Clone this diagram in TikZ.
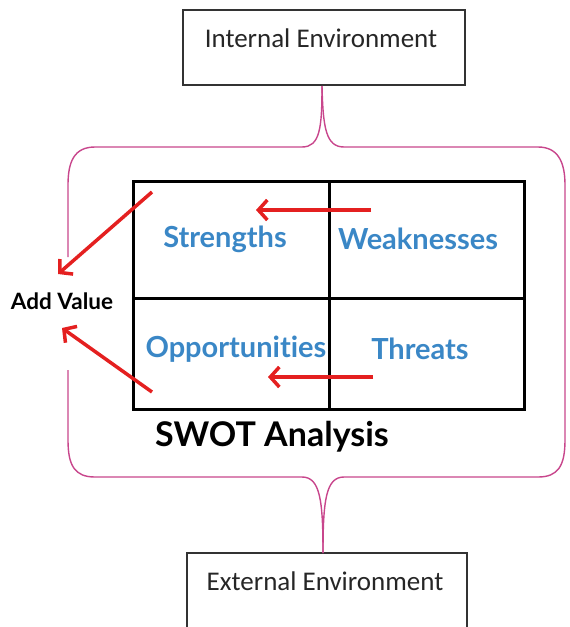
\documentclass[tikz,border=0pt]{standalone}
\usepackage{fontspec}
\setmainfont{Carlito}
\newfontfamily\gill[Ligatures={NoCommon,NoRare}]{Lato}
\usetikzlibrary{arrows.meta}
\definecolor{brak}{RGB}{200,70,140}
\definecolor{swblue}{RGB}{58,135,198}
\definecolor{arred}{RGB}{228,32,32}
\tikzset{
  envbox/.style={draw=black!80,line width=1.4pt},
  envtext/.style={font=\fontsize{27}{29}\selectfont,text=black!85},
  cell/.style={font=\gill\bfseries\fontsize{29}{31}\selectfont,text=swblue,inner sep=0pt},
  gridline/.style={line width=3pt,black},
  bracket/.style={draw=brak,line width=1.4pt},
  redarrow/.style={draw=arred,line width=3.5pt,-{Straight Barb[length=9pt,width=20pt,line width=3.5pt]}},
}
\begin{document}
\begin{tikzpicture}[x=1pt,y=-1pt]
\useasboundingbox (0,0) rectangle (570,627);
% environment boxes
\draw[envbox] (183,10) rectangle (465,85);
\node[envtext] (internal) at (321,38) {Internal Environment};
\draw[envbox] (187,553) rectangle (467,640);
\node[envtext] (external) at (325,581) {External Environment};
% bracket
\coordinate (topapex) at (322,86);
\coordinate (botapex) at (323,553);
\draw[bracket] (topapex) .. controls (322,128) and (320,147) .. (302,147) -- (95,147)
  .. controls (74,147) and (68,162) .. (68,185) -- (68,257);
\draw[bracket] (68,370) -- (68,440) .. controls (68,466) and (75,477) .. (95,477) -- (302,477)
  .. controls (320,477) and (323,500) .. (botapex);
\draw[bracket] (topapex) .. controls (323,128) and (326,147) .. (344,147) -- (538,147)
  .. controls (558,147) and (565,162) .. (565,185) -- (565,440)
  .. controls (565,466) and (558,477) .. (538,477) -- (344,477)
  .. controls (326,477) and (323,500) .. (botapex);
% grid
\draw[gridline] (133,181) rectangle (524,409);
\draw[gridline] (329,181) -- (329,409);
\draw[gridline] (133,298) -- (524,298);
\node[cell] (s) at (225,239) {Strengths};
\node[cell] (w) at (418,239) {Weaknesses};
\node[cell] (o) at (236,349) {Opportunities};
\node[cell] (t) at (420,349) {Threats};
\node[font=\gill\bfseries\fontsize{34}{36}\selectfont,inner sep=0pt] (swot) at (272,437) {SWOT Analysis};
\node[font=\gill\bfseries\fontsize{22.5}{24}\selectfont,inner sep=0pt] (addvalue) at (62,301) {Add Value};
% arrows
\coordinate (wa) at (371,210);
\coordinate (sa) at (256,210);
\coordinate (ta) at (373,377);
\coordinate (oa) at (268,377);
\coordinate (sb) at (152,192);
\coordinate (ob) at (152,392);
\coordinate (av1) at (58,274);
\coordinate (av2) at (62,328);
\draw[redarrow] (wa) -- (sa);
\draw[redarrow] (ta) -- (oa);
\draw[redarrow] (sb) -- (av1);
\draw[redarrow] (ob) -- (av2);
\end{tikzpicture}
\end{document}
